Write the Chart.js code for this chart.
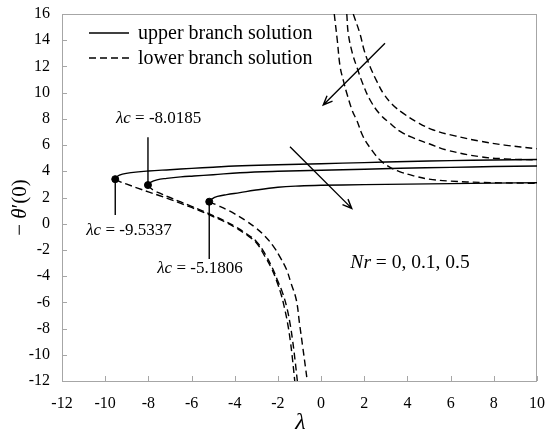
<!DOCTYPE html>
<html>
<head>
<meta charset="utf-8">
<script src="https://cdn.jsdelivr.net/npm/chart.js@4.4.0/dist/chart.umd.min.js"></script>
<style>
  html, body { margin: 0; padding: 0; background: #fff; }
  #wrap { width: 550px; height: 434px; }
</style>
</head>
<body>
<div id="wrap"><canvas id="chart" width="550" height="434"></canvas></div>
<script>
// upper branch solutions (solid), one per Nr
var upX1 = [-9.5337, -9.45, -9.2, -8.8, -8, -7, -6, -5, -4, -2, 0, 2, 4, 6, 8, 10];
var upY1 = [3.4, 3.6, 3.78, 3.9, 4.02, 4.12, 4.22, 4.31, 4.4, 4.5, 4.58, 4.66, 4.75, 4.81, 4.86, 4.9];
var upX2 = [-8.0185, -7.9, -7.6, -7.15, -6.5, -5.9, -5, -3.76, -2, 0, 2, 3.66, 6, 8, 10];
var upY2 = [2.95, 3.15, 3.35, 3.46, 3.57, 3.64, 3.74, 3.89, 4.0, 4.08, 4.15, 4.23, 4.3, 4.36, 4.4];
var upX3 = [-5.1806, -5.05, -4.8, -4.37, -3.76, -3.1, -2, -1, 0, 2, 4, 6, 8, 10];
var upY3 = [1.68, 1.9, 2.08, 2.22, 2.37, 2.55, 2.78, 2.88, 2.93, 2.98, 3.02, 3.06, 3.1, 3.13];

// lower branch solutions (dashed), part below the singularity
var loX1 = [-9.5337, -9.3, -9, -8.5, -8, -7.5, -7, -6.5, -6, -5.5, -5, -4.5, -4, -3.5, -3, -2.6, -2.3, -2.05, -1.85, -1.7, -1.55, -1.42, -1.32, -1.22];
var loY1 = [3.4, 3.2, 3.02, 2.72, 2.43, 2.15, 1.86, 1.55, 1.24, 0.9, 0.55, 0.17, -0.27, -0.8, -1.45, -2.5, -3.4, -4.4, -5.4, -6.4, -7.6, -9.0, -10.4, -12];
var loX2 = [-8.0185, -7.9, -7.7, -7.4, -7, -6.5, -6, -5.5, -5, -4.5, -4, -3.5, -3, -2.6, -2.25, -2.0, -1.8, -1.6, -1.45, -1.32, -1.2, -1.1];
var loY2 = [2.95, 2.72, 2.5, 2.28, 2.0, 1.66, 1.33, 0.98, 0.62, 0.24, -0.2, -0.72, -1.35, -2.3, -3.4, -4.4, -5.2, -6.3, -7.5, -8.9, -10.5, -12];
var loX3 = [-5.1806, -4.8, -4.4, -4, -3.5, -3, -2.6, -2.2, -1.9, -1.6, -1.4, -1.15, -1.0, -0.85, -0.72, -0.64];
var loY3 = [1.68, 1.4, 1.1, 0.75, 0.25, -0.35, -0.95, -1.75, -2.55, -3.5, -4.5, -5.8, -7.6, -9.4, -11, -12];

// lower branch solutions (dashed), part above the singularity
var hiX1 = [1.49, 1.8, 2.0, 2.27, 2.6, 2.88, 3.3, 3.81, 4.5, 5.2, 6.2, 7.36, 8.5, 10];
var hiY1 = [16, 14.5, 13.2, 11.98, 10.8, 9.95, 9.1, 8.42, 7.7, 7.15, 6.7, 6.3, 6.0, 5.72];
var hiX2 = [1.19, 1.26, 1.45, 1.65, 1.95, 2.27, 2.7, 3.19, 3.7, 4.27, 5, 5.82, 7.36, 8.5, 10];
var hiY2 = [16, 14.5, 13, 11.98, 10.6, 9.44, 8.4, 7.66, 7.0, 6.55, 6.1, 5.62, 5.11, 4.95, 4.86];
var hiX3 = [0.61, 0.75, 0.88, 1.05, 1.19, 1.45, 1.65, 1.96, 2.4, 2.73, 3.1, 3.6, 4.3, 5, 6, 7.5, 10];
var hiY3 = [16, 14, 12, 10.8, 9.95, 8.6, 7.9, 6.6, 5.5, 4.86, 4.4, 4.0, 3.65, 3.4, 3.25, 3.15, 3.08];

// critical points
var critX = [-9.5337, -8.0185, -5.1806];
var critY = [3.4, 2.95, 1.68];
var critText = ['-9.5337', '-8.0185', '-5.1806'];
var leaderEnd = [0.66, 6.6, -2.7];

var xTicks = [-12, -10, -8, -6, -4, -2, 0, 2, 4, 6, 8, 10];
var yTicks = [-12, -10, -8, -6, -4, -2, 0, 2, 4, 6, 8, 10, 12, 14, 16];

var serif = '"Liberation Serif", "Times New Roman", serif';

function pts(xs, ys) {
  var out = [];
  for (var i = 0; i < xs.length; i++) out.push({ x: xs[i], y: ys[i] });
  return out;
}

function line(xs, ys, dashed) {
  return {
    data: pts(xs, ys),
    showLine: true,
    borderColor: '#000',
    borderWidth: 1.4,
    borderDash: dashed ? [7, 4] : [],
    pointRadius: 0,
    tension: 0.4,
    fill: false
  };
}

function drawRich(ctx, parts, x, y, align) {
  var w = 0;
  parts.forEach(function (p) { ctx.font = p[1]; w += ctx.measureText(p[0]).width; });
  var cx = align === 'center' ? x - w / 2 : x;
  ctx.textAlign = 'left';
  ctx.textBaseline = 'middle';
  parts.forEach(function (p) {
    ctx.font = p[1];
    ctx.fillText(p[0], cx, y);
    cx += ctx.measureText(p[0]).width;
  });
}

function arrow(ctx, x1, y1, x2, y2) {
  ctx.beginPath();
  ctx.moveTo(x1, y1);
  ctx.lineTo(x2, y2);
  var a = Math.atan2(y2 - y1, x2 - x1);
  var len = 10;
  ctx.moveTo(x2 - len * Math.cos(a - 0.4), y2 - len * Math.sin(a - 0.4));
  ctx.lineTo(x2, y2);
  ctx.lineTo(x2 - len * Math.cos(a + 0.4), y2 - len * Math.sin(a + 0.4));
  ctx.stroke();
}

function noPad(s) {
  s.paddingTop = 0;
  s.paddingBottom = 0;
  s.paddingLeft = 0;
  s.paddingRight = 0;
}

var extras = {
  id: 'extras',
  beforeDatasetsDraw: function (chart) {
    var ctx = chart.ctx, a = chart.chartArea;
    var xs = chart.scales.x, ys = chart.scales.y;
    ctx.save();
    ctx.strokeStyle = '#a6a6a6';
    ctx.lineWidth = 1;
    ctx.strokeRect(a.left + 0.5, a.top + 0.5, a.right - a.left - 1, a.bottom - a.top);
    ctx.beginPath();
    xTicks.forEach(function (t) {
      var px = Math.round(xs.getPixelForValue(t)) + 0.5;
      ctx.moveTo(px, a.bottom);
      ctx.lineTo(px, a.bottom - 5);
    });
    yTicks.forEach(function (t) {
      var py = Math.round(ys.getPixelForValue(t)) + 0.5;
      ctx.moveTo(a.left, py);
      ctx.lineTo(a.left + 5, py);
    });
    ctx.stroke();
    ctx.restore();
  },
  afterDraw: function (chart) {
    var ctx = chart.ctx, a = chart.chartArea;
    var xs = chart.scales.x, ys = chart.scales.y;
    ctx.save();
    ctx.fillStyle = '#000';
    ctx.strokeStyle = '#000';
    ctx.lineWidth = 1.4;

    // legend
    ctx.beginPath();
    ctx.moveTo(a.left + 27, a.top + 19);
    ctx.lineTo(a.left + 67, a.top + 19);
    ctx.stroke();
    ctx.setLineDash([7, 4]);
    ctx.beginPath();
    ctx.moveTo(a.left + 27, a.top + 44);
    ctx.lineTo(a.left + 67, a.top + 44);
    ctx.stroke();
    ctx.setLineDash([]);
    drawRich(ctx, [['upper branch solution', '20px ' + serif]], a.left + 76, a.top + 20, 'left');
    drawRich(ctx, [['lower branch solution', '20px ' + serif]], a.left + 76, a.top + 45, 'left');

    // leader lines and critical value labels
    var offs = [[-29, 15], [-32, -19], [-52, 9]];
    for (var i = 0; i < critX.length; i++) {
      var px = xs.getPixelForValue(critX[i]);
      var py = ys.getPixelForValue(critY[i]);
      var pe = ys.getPixelForValue(leaderEnd[i]);
      ctx.beginPath();
      ctx.moveTo(px, py);
      ctx.lineTo(px, pe);
      ctx.stroke();
      drawRich(ctx, [['λ', 'italic 17px ' + serif], ['c', 'italic 17px ' + serif],
        [' = ' + critText[i], '17px ' + serif]], px + offs[i][0], pe + offs[i][1], 'left');
    }

    // arrows showing increasing Nr
    arrow(ctx, xs.getPixelForValue(2.96), ys.getPixelForValue(13.76),
      xs.getPixelForValue(0.10), ys.getPixelForValue(9.06));
    arrow(ctx, xs.getPixelForValue(-1.44), ys.getPixelForValue(5.88),
      xs.getPixelForValue(1.42), ys.getPixelForValue(1.17));

    drawRich(ctx, [['Nr', 'italic 19.5px ' + serif], [' = 0, 0.1, 0.5', '19.5px ' + serif]],
      xs.getPixelForValue(4.12), ys.getPixelForValue(-3.0), 'center');

    // axis titles
    drawRich(ctx, [['λ', 'italic 24px ' + serif]], (a.left + a.right) / 2 + 1, 423, 'center');
    ctx.translate(20, (a.top + a.bottom) / 2 + 10);
    ctx.rotate(-Math.PI / 2);
    drawRich(ctx, [['− ', '21px ' + serif], ['θ', 'italic 21px ' + serif], ['′(0)', '21px ' + serif]], 0, 0, 'center');
    ctx.restore();
  }
};

new Chart(document.getElementById('chart'), {
  type: 'scatter',
  data: {
    datasets: [
      line(upX1, upY1, false),
      line(upX2, upY2, false),
      line(upX3, upY3, false),
      line(loX1, loY1, true),
      line(loX2, loY2, true),
      line(loX3, loY3, true),
      line(hiX1, hiY1, true),
      line(hiX2, hiY2, true),
      line(hiX3, hiY3, true),
      {
        data: pts(critX, critY),
        showLine: false,
        pointRadius: 3.5,
        pointBackgroundColor: '#000',
        pointBorderColor: '#000'
      }
    ]
  },
  options: {
    responsive: false,
    animation: false,
    devicePixelRatio: 1,
    layout: { padding: { left: 0, right: 13, top: 14, bottom: 0 } },
    plugins: { legend: { display: false }, tooltip: { enabled: false } },
    scales: {
      x: {
        type: 'linear',
        min: -12, max: 10,
        afterBuildTicks: function (s) { s.ticks = xTicks.map(function (v) { return { value: v }; }); },
        afterFit: function (s) { s.height = 53; noPad(s); },
        grid: { display: false, drawTicks: false },
        border: { display: false },
        ticks: { color: '#000', padding: 13, font: { family: serif, size: 16 }, maxRotation: 0 }
      },
      y: {
        type: 'linear',
        min: -12, max: 16,
        afterBuildTicks: function (s) { s.ticks = yTicks.map(function (v) { return { value: v }; }); },
        afterFit: function (s) { s.width = 62; noPad(s); },
        grid: { display: false, drawTicks: false },
        border: { display: false },
        ticks: { color: '#000', padding: 12, font: { family: serif, size: 16 } }
      }
    }
  },
  plugins: [extras]
});
</script>
</body>
</html>
